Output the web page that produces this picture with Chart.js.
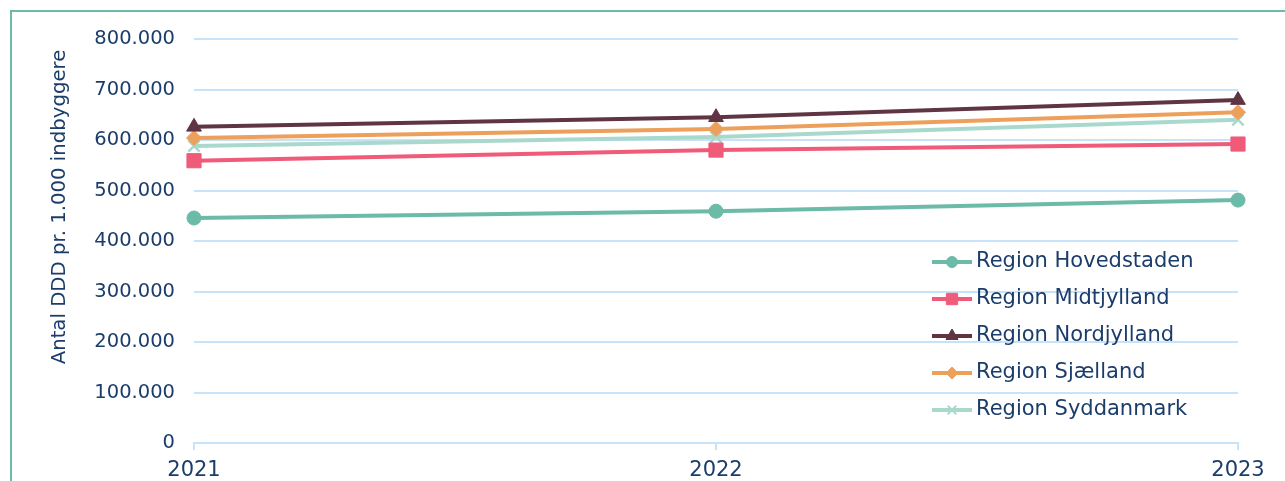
<!DOCTYPE html>
<html>
<head>
<meta charset="utf-8">
<script src="https://cdn.jsdelivr.net/npm/chart.js@4"></script>
<style>
  html, body { margin: 0; padding: 0; background: #fff; }
  #wrap { width: 1285px; height: 481px; position: relative; }
</style>
</head>
<body>
<div id="wrap"><canvas id="myChart" width="1285" height="481"></canvas></div>
<script>
// data
var years = ['2021', '2022', '2023'];
var regions = ['Region Hovedstaden', 'Region Midtjylland', 'Region Nordjylland', 'Region Sjælland', 'Region Syddanmark'];
var hovedstaden = [445500, 459000, 481000];
var midtjylland = [559000, 580000, 592000];
var nordjylland = [626000, 645000, 679000];
var sjaelland = [604000, 622000, 655000];
var syddanmark = [588000, 606000, 640000];
var yTicks = [0, 100000, 200000, 300000, 400000, 500000, 600000, 700000, 800000];

var navy = '#1b3d6b';
var gridBlue = '#c7e3f9';
var fontFam = '"DejaVu Sans", Verdana, sans-serif';

function dots(v){
    return String(v).replace(/\B(?=(\d{3})+(?!\d))/g, '.');
}

function series(label, values, color, style, radius, extra){
    var ds = {
        label: label,
        data: values,
        borderColor: color,
        backgroundColor: color,
        pointBackgroundColor: color,
        pointBorderColor: color,
        borderWidth: 4,
        pointStyle: style,
        pointRadius: radius,
        pointHoverRadius: radius,
        pointBorderWidth: 1,
        tension: 0
    };
    for (var k in extra) ds[k] = extra[k];
    return ds;
}

// frame + y title
const framePlugin = {
    id: 'frame',
    beforeDraw(chart){
        const ctx = chart.ctx;
        ctx.save();
        ctx.fillStyle = '#fff';
        ctx.fillRect(0, 0, chart.width, chart.height);
        ctx.strokeStyle = '#6cbaa8';
        ctx.lineWidth = 2;
        ctx.beginPath();
        ctx.moveTo(11, chart.height + 5);
        ctx.lineTo(11, 11);
        ctx.lineTo(chart.width + 5, 11);
        ctx.stroke();
        ctx.restore();
    },
    afterDraw(chart){
        const ctx = chart.ctx;
        ctx.save();
        ctx.translate(60, 207);
        ctx.rotate(-Math.PI / 2);
        ctx.fillStyle = navy;
        ctx.font = '19.7px ' + fontFam;
        ctx.textAlign = 'center';
        ctx.textBaseline = 'middle';
        ctx.fillText('Antal DDD pr. 1.000 indbyggere', 0, 0);
        ctx.restore();
    }
};

// legend drawn inside the plot, lower right
const legendPlugin = {
    id: 'insideLegend',
    afterDraw(chart){
        const ctx = chart.ctx;
        const x0 = 932, x1 = 972, tx = 976;
        let y = 262;
        ctx.save();
        chart.data.datasets.forEach(function(ds){
            ctx.strokeStyle = ds.borderColor;
            ctx.lineWidth = 4;
            ctx.beginPath();
            ctx.moveTo(x0, y);
            ctx.lineTo(x1, y);
            ctx.stroke();
            ctx.fillStyle = ds.borderColor;
            ctx.lineWidth = ds.pointStyle === 'crossRot' ? 2 : 1;
            Chart.helpers.drawPoint(ctx, {
                pointStyle: ds.pointStyle,
                radius: ds.legendRadius,
                borderWidth: ctx.lineWidth,
                rotation: 0
            }, (x0 + x1) / 2, y);
            ctx.fillStyle = navy;
            ctx.font = '21px ' + fontFam;
            ctx.textAlign = 'left';
            ctx.textBaseline = 'middle';
            ctx.fillText(ds.label, tx, y);
            y += 37;
        });
        ctx.restore();
    }
};

const data = {
    labels: years,
    datasets: [
        series(regions[0], hovedstaden, '#6cbaa8', 'circle', 7, {legendRadius: 5.5}),
        series(regions[1], midtjylland, '#ef5b79', 'rect', 10, {legendRadius: 8}),
        series(regions[2], nordjylland, '#5f3544', 'triangle', 8.5, {legendRadius: 7}),
        series(regions[3], sjaelland, '#eda05b', 'rectRot', 7.5, {legendRadius: 6}),
        series(regions[4], syddanmark, '#a9d9cd', 'crossRot', 8, {legendRadius: 6, pointBorderWidth: 2.5})
    ]
};

const config = {
    type: 'line',
    data: data,
    plugins: [framePlugin, legendPlugin],
    options: {
        responsive: false,
        animation: false,
        events: [],
        layout: { padding: { left: 10, right: 47, top: 39, bottom: 0 } },
        plugins: {
            legend: { display: false },
            tooltip: { enabled: false }
        },
        scales: {
            x: {
                offset: false,
                afterFit: function(scale){ scale.height = 38; },
                grid: { drawOnChartArea: false, drawTicks: true, tickLength: 7, color: gridBlue, lineWidth: 2 },
                border: { color: gridBlue, width: 2 },
                ticks: { color: navy, font: { family: fontFam, size: 21 }, padding: 8, maxRotation: 0 }
            },
            y: {
                min: 0,
                max: 800000,
                afterFit: function(scale){ scale.width = 184; },
                afterBuildTicks: function(scale){
                    scale.ticks = yTicks.map(function(v){ return { value: v }; });
                },
                grid: { drawTicks: false, color: gridBlue, lineWidth: 2 },
                border: { display: false },
                ticks: {
                    color: navy,
                    font: { family: fontFam, size: 19.5 },
                    padding: 19,
                    callback: function(v){ return dots(v); }
                }
            }
        }
    }
};

const myChart = new Chart(document.getElementById('myChart'), config);
</script>
</body>
</html>
